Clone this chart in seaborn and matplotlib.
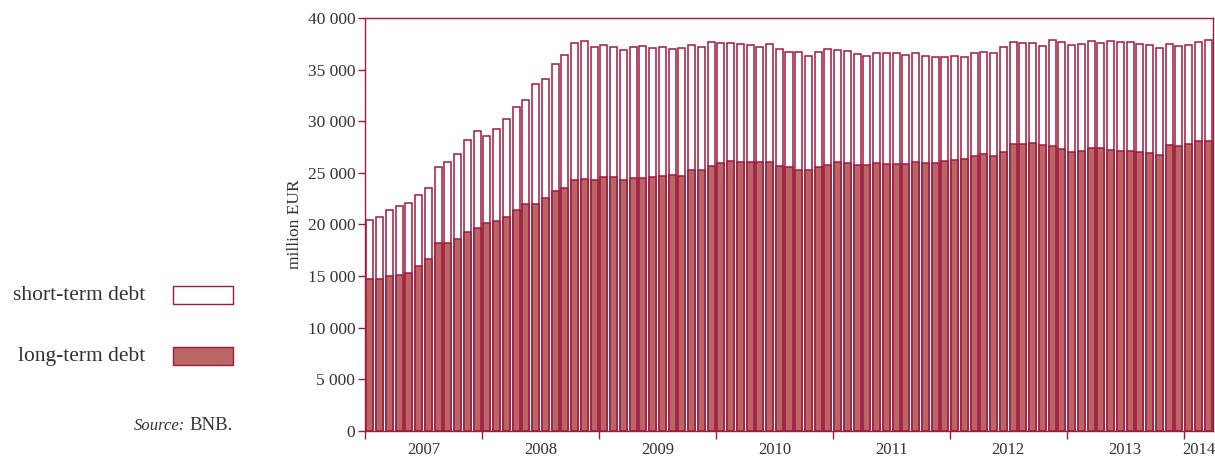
import matplotlib
matplotlib.use("Agg")
import matplotlib.pyplot as plt
from matplotlib.patches import Rectangle
import seaborn as sns
import numpy as np
import pandas as pd

# ---- data (million EUR), monthly Jan 2007 - Mar 2014 ----
years = ['2007', '2008', '2009', '2010', '2011', '2012', '2013', '2014']
months_per_year = [12, 12, 12, 12, 12, 12, 12, 3]

total_debt = [
    20420, 20770, 21450, 21840, 22060, 22900, 23550, 25610, 26060, 26870, 28190, 29030,
    28580, 29230, 30260, 31390, 32030, 33580, 34130, 35580, 36420, 37550, 37810, 37160,
    37350, 37190, 36870, 37160, 37260, 37130, 37160, 36970, 37060, 37350, 37160, 37710,
    37610, 37550, 37450, 37350, 37160, 37520, 37030, 36680, 36710, 36320, 36680, 36970,
    36900, 36810, 36520, 36320, 36610, 36610, 36610, 36420, 36610, 36320, 36230, 36190,
    36350, 36230, 36610, 36710, 36610, 37190, 37650, 37550, 37550, 37290, 37870, 37710,
    37350, 37450, 37810, 37550, 37740, 37650, 37650, 37450, 37390, 37060, 37450, 37290,
    37390, 37650, 37840,
]
long_term_debt = [
    14740, 14740, 15030, 15130, 15290, 15970, 16650, 18160, 18160, 18610, 19290, 19680,
    20160, 20320, 20680, 21450, 21940, 21940, 22580, 23260, 23550, 24290, 24390, 24290,
    24610, 24610, 24290, 24480, 24480, 24610, 24710, 24770, 24710, 25320, 25320, 25710,
    26000, 26160, 26100, 26100, 26100, 26100, 25710, 25610, 25320, 25320, 25610, 25810,
    26100, 26000, 25810, 25810, 26000, 25900, 25900, 25900, 26100, 26000, 26000, 26160,
    26290, 26390, 26680, 26870, 26680, 27060, 27810, 27810, 27900, 27710, 27610, 27320,
    27030, 27130, 27450, 27450, 27260, 27160, 27160, 27060, 26970, 26770, 27710, 27650,
    27840, 28100, 28100,
]

months = [f"{y}-{m + 1:02d}" for y, n in zip(years, months_per_year) for m in range(n)]
df = pd.DataFrame({'month': months, 'total': total_debt, 'long': long_term_debt})

# ---- style ----
edge = '#9e1a40'
fill = '#bb6565'
txt = '#333333'

sns.set_theme(style='white')
plt.rcParams['font.family'] = ['Liberation Serif', 'DejaVu Serif']

fig = plt.figure(figsize=(12.15, 4.57), dpi=100)
ax = fig.add_axes([365 / 1215, 1 - 431 / 457, 848 / 1215, 413 / 457])

sns.barplot(data=df, x='month', y='total', color='white', edgecolor=edge,
            linewidth=1.1, width=0.72, saturation=1, ax=ax)
sns.barplot(data=df, x='month', y='long', color=fill, edgecolor=edge,
            linewidth=1.1, width=0.72, saturation=1, ax=ax)

n = len(months)
ax.set_xlim(-0.5, n - 0.5)
ax.set_ylim(0, 40000)

# year boundaries as ticks, year names centred as minor labels
bounds = np.cumsum([0] + months_per_year) - 0.5
centres = (bounds[:-1] + bounds[1:]) / 2
ax.set_xticks(bounds[:-1])
ax.set_xticklabels([])
ax.set_xticks(centres, minor=True)
ax.set_xticklabels(years, minor=True)
ax.tick_params(axis='x', which='major', length=6, width=1, color=edge, direction='out', bottom=True)
ax.tick_params(axis='x', which='minor', length=0, labelsize=12, labelcolor=txt, pad=8)

yt = np.arange(0, 40001, 5000)
ax.set_yticks(yt)
ax.set_yticklabels([f"{v:,}".replace(',', ' ') for v in yt])
ax.tick_params(axis='y', length=5, width=1, color=edge, direction='out', left=True,
               labelsize=12.5, labelcolor=txt, pad=2)

ax.set_xlabel('')
ax.set_ylabel('million EUR', fontsize=12.5, color=txt, labelpad=3)

for s in ax.spines.values():
    s.set_color(edge)
    s.set_linewidth(1)

# ---- legend on the left ----
fig.text(145 / 1215, 1 - 295 / 457, 'short-term debt', ha='right', va='center', fontsize=15.5, color=txt)
fig.text(145 / 1215, 1 - 356 / 457, 'long-term debt', ha='right', va='center', fontsize=15.5, color=txt)
fig.patches.append(Rectangle((173 / 1215, 1 - 304 / 457), 60 / 1215, 18 / 457,
                             transform=fig.transFigure, facecolor='white', edgecolor=edge, linewidth=1))
fig.patches.append(Rectangle((173 / 1215, 1 - 365 / 457), 60 / 1215, 18 / 457,
                             transform=fig.transFigure, facecolor=fill, edgecolor=edge, linewidth=1))
fig.text(185 / 1215, 1 - 426 / 457, 'Source:', ha='right', va='center', fontsize=12,
         fontstyle='italic', color=txt)
fig.text(233 / 1215, 1 - 426 / 457, 'BNB.', ha='right', va='center', fontsize=13.5, color=txt)

plt.savefig('out.png', dpi=100)
